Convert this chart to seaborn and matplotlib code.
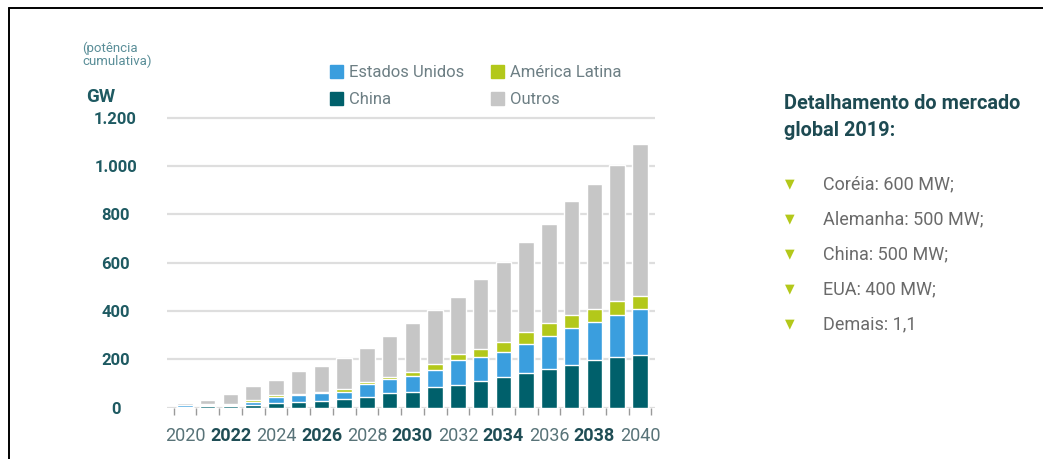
import matplotlib
matplotlib.use("Agg")
import matplotlib.pyplot as plt
import seaborn as sns
import pandas as pd
import numpy as np
from matplotlib.patches import Patch
from matplotlib.lines import Line2D

years = list(range(2020, 2041))
china = [3, 6, 8, 12, 20, 22, 27, 34, 42, 59, 64, 83, 95, 110, 126, 142, 158, 174, 197, 210, 218]
eua = [8, 4, 4, 12, 22, 28, 32, 31, 55, 58, 65, 74, 102, 98, 104, 122, 140, 154, 157, 173, 189]
america_latina = [1, 3, 2, 8, 8, 5, 6, 10, 10, 11, 18, 22, 24, 33, 40, 48, 52, 53, 53, 58, 55]
outros = [5, 17, 42, 55, 62, 95, 108, 131, 138, 169, 201, 226, 236, 293, 332, 372, 408, 473, 519, 563, 630]

series_names = ["China", "Estados Unidos", "América Latina", "Outros"]
y_ticks = [0, 200, 400, 600, 800, 1000, 1200]
y_tick_labels = ["0", "200", "400", "600", "800", "1.000", "1.200"]
bullets = ["Coréia: 600 MW;", "Alemanha: 500 MW;", "China: 500 MW;", "EUA: 400 MW;", "Demais: 1,1"]

C_CHINA = "#00606b"
C_US = "#3a9ede"
C_LATAM = "#b3c81a"
C_OUT = "#c6c6c6"
TEAL = "#1e5a62"

sns.set_theme(style="white")
plt.rcParams["font.family"] = ["Roboto", "DejaVu Sans"]

df = pd.DataFrame({"ano": [str(y) for y in years], "China": china, "Estados Unidos": eua,
                   "América Latina": america_latina, "Outros": outros})
df["c1"] = df["China"]
df["c2"] = df["c1"] + df["Estados Unidos"]
df["c3"] = df["c2"] + df["América Latina"]
df["c4"] = df["c3"] + df["Outros"]

W, H = 1043, 459
fig = plt.figure(figsize=(W / 100, H / 100), dpi=100)
ax = fig.add_axes([167 / W, (H - 407.5) / H, 488 / W, 294.6 / H])

for col, c in [("c4", C_OUT), ("c3", C_LATAM), ("c2", C_US), ("c1", C_CHINA)]:
    sns.barplot(data=df, x="ano", y=col, color=c, width=0.68, ax=ax, saturation=1, zorder=3)

ax.set_xlim(-0.79, 20.66)
ax.set_ylim(0, 1220)
for s in ax.spines.values():
    s.set_visible(False)
ax.set_xlabel("")
ax.set_ylabel("")
ax.yaxis.grid(True, color="#dedede", lw=1.6, zorder=0)
ax.xaxis.grid(False)
ax.set_axisbelow(True)

ax.set_yticks(y_ticks)
ax.set_yticklabels(y_tick_labels, fontsize=12, fontweight="bold", color=TEAL, ha="center")
ax.tick_params(axis="y", length=0, pad=37)

xt = list(range(0, 21, 2))
ax.set_xticks(xt)
ax.set_xticklabels([str(years[i]) for i in xt], fontsize=13)
for k, lab in enumerate(ax.get_xticklabels()):
    if k % 2 == 1:
        lab.set_fontweight("bold")
        lab.set_color("#1f4d55")
    else:
        lab.set_color("#587378")
ax.tick_params(axis="x", which="major", length=0, pad=14, bottom=True)
ax.set_xticks(np.arange(-0.5, 21, 1.0), minor=True)
ax.tick_params(axis="x", which="minor", length=5, width=1, color="#9a9a9a",
               direction="out", bottom=True)

# axis title
fig.text(82 / W, 1 - 55 / H, "(potência\ncumulativa)", fontsize=9.5, color="#5a8e98",
         ha="left", va="center", linespacing=0.95)
fig.text(101 / W, 1 - 97 / H, "GW", fontsize=13.5, fontweight="bold", color=TEAL,
         ha="center", va="center")

# legend
handles = [Patch(color=C_US, label="Estados Unidos"), Patch(color=C_CHINA, label="China"),
           Patch(color=C_LATAM, label="América Latina"), Patch(color=C_OUT, label="Outros")]
leg = fig.legend(handles=handles, ncol=2, loc="upper left", bbox_to_anchor=(322 / W, 1 - 57 / H),
                 frameon=False, fontsize=12, handlelength=0.75, handleheight=0.75,
                 handletextpad=0.35, columnspacing=1.65, labelspacing=0.72, borderpad=0)
for t in leg.get_texts():
    t.set_color("#6d7f84")

# right panel
fig.text(784 / W, 1 - 117 / H, "Detalhamento do mercado\nglobal 2019:", fontsize=14.3,
         fontweight="bold", color="#1d4a52", ha="left", va="center", linespacing=1.5)
for i, b in enumerate(bullets):
    y = 1 - (184 + i * 35) / H
    fig.text(790 / W, y, "▼", fontsize=9, color=C_LATAM, ha="center", va="center",
             family=["DejaVu Sans"])
    fig.text(823 / W, y, b, fontsize=13, color="#6a6a6a", ha="left", va="center")

# frame
fig.add_artist(Line2D([9 / W, 9 / W], [0, 1 - 8 / H], color="black", lw=1.4, transform=fig.transFigure))
fig.add_artist(Line2D([9 / W, 1], [1 - 8 / H, 1 - 8 / H], color="black", lw=1.4, transform=fig.transFigure))

fig.savefig("out.png", dpi=100)
